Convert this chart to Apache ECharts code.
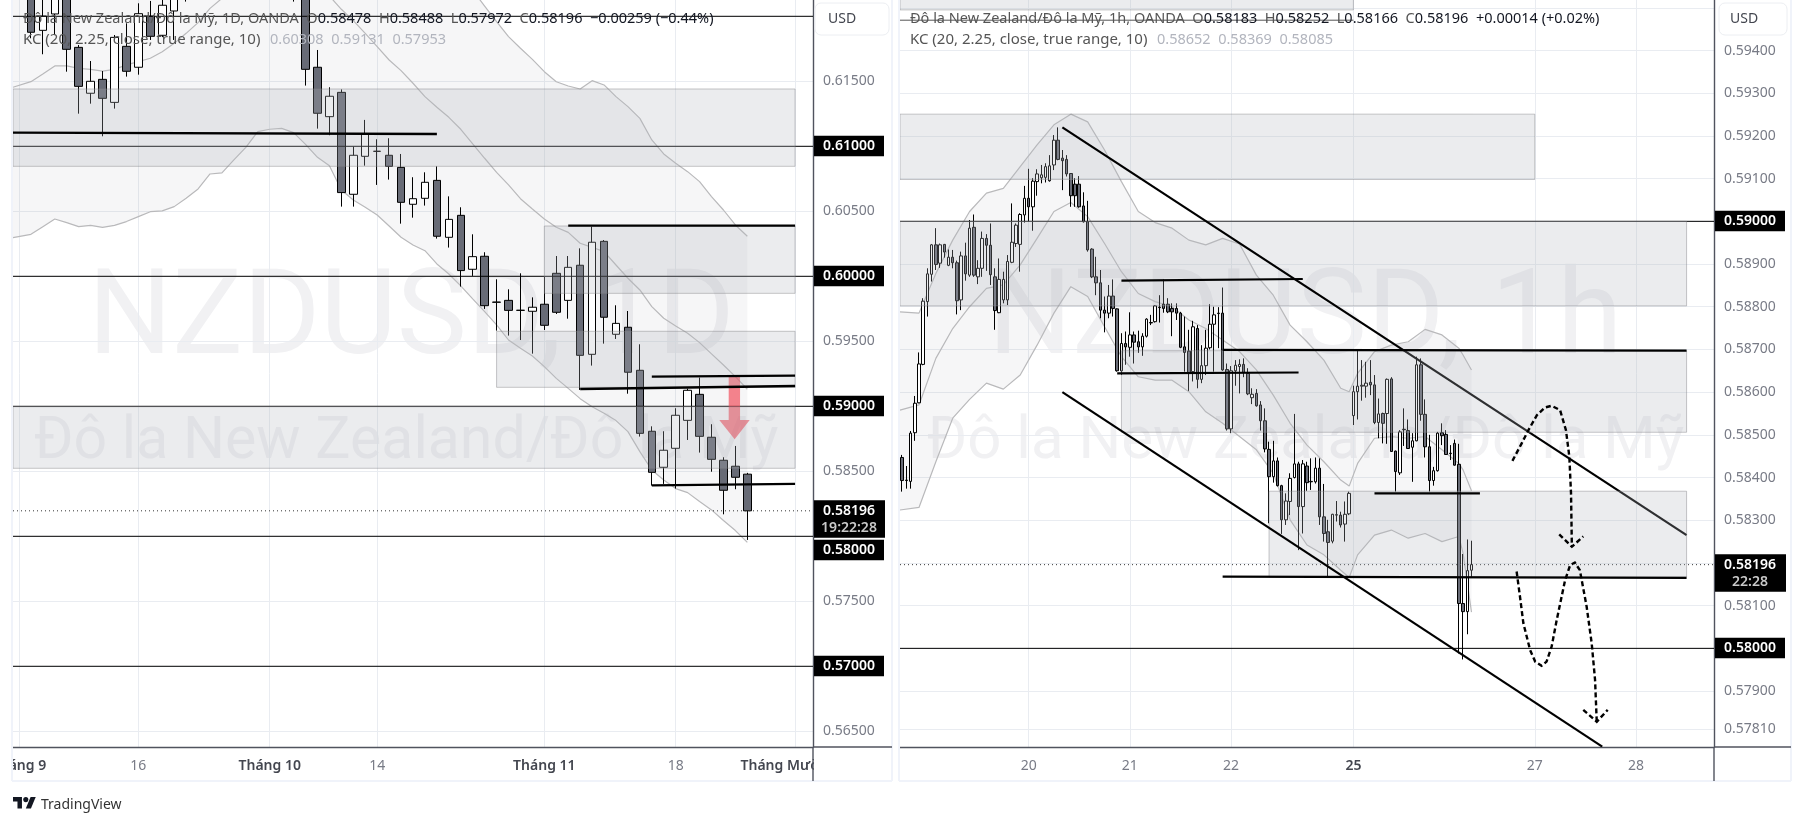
<!DOCTYPE html>
<html><head><meta charset="utf-8">
<style>html,body{margin:0;padding:0;background:#fff}#c{width:1804px;height:826px}</style>
<script src="https://cdn.jsdelivr.net/npm/echarts@6/dist/echarts.min.js"></script>
</head><body><div id="c"></div>
<script>
// ---------- daily pane: rows are [open, close, low, high]
const dailyCandles=[
[.6236,.6252,.6226,.6262],[.6223,.61877,.61831,.6230],[.61892,.62002,.61708,.62177],[.62018,.62203,.61856,.6225],
[.6230,.61746,.61574,.6235],[.61761,.61461,.61251,.61779],[.61408,.61500,.61328,.61656],[.61515,.61369,.61077,.61579],
[.61338,.61838,.61290,.61856],[.61769,.61577,.61536,.61946],[.61608,.62020,.61551,.62100],[.62002,.61846,.61818,.62118],
[.61854,.62085,.6184,.6222],[.62041,.6218,.61818,.6228],[.6222,.6240,.62113,.6250],[.6240,.6252,.6232,.6260],
[.6252,.6246,.6238,.6262],[.6246,.6262,.6240,.6268],[.6262,.6255,.6248,.6270],[.6255,.6268,.6250,.6275],
[.6268,.6258,.6252,.6274],[.6258,.6250,.6244,.6264],[.6250,.6242,.6232,.6256],[.6242,.6232,.62113,.6248],
[.6235,.61592,.61467,.6240],[.61608,.61254,.61136,.61741],[.61228,.61385,.61085,.61454],[.61415,.60644,.60536,.61438],
[.60631,.60931,.60536,.60997],[.60923,.61095,.60851,.61203],[.60962,.60961,.60703,.61054],[.60931,.60846,.60744,.61062],
[.60838,.60569,.60405,.60941],[.60554,.60597,.60451,.60762],[.60600,.60723,.60544,.60800],[.60738,.60308,.60290,.60846],
[.60300,.60438,.60221,.60615],[.60469,.60044,.59921,.60531],[.60054,.60151,.60003,.60323],[.60154,.59774,.59749,.60185],
[.59800,.59802,.59582,.59977],[.59815,.59738,.59544,.59900],[.59738,.59739,.59510,.60023],[.59731,.59762,.59405,.59838],
[.59785,.59623,.59587,.59997],[.60023,.59723,.59710,.60156],[.59815,.60069,.59674,.60156],[.60085,.59392,.59126,.60215],
[.59400,.60262,.59313,.60382],[.60269,.59685,.59482,.60279],[.59554,.59638,.59518,.59777],[.59608,.59262,.59097,.59733],
[.59277,.58792,.58767,.59477],[.58808,.58492,.58390,.58846],[.58531,.58662,.58403,.58808],[.58677,.58931,.58367,.58985],
[.58892,.59123,.58741,.59136],[.59092,.58769,.58644,.59221],[.58762,.58592,.58497,.58862],[.58585,.58354,.58169,.58608],
[.58539,.58454,.58362,.58695],[.58478,.58196,.57972,.58488]];
const dailyKcUpper=[.6261,.6267,.6273,.6280,.6282,.6282,.6279,.6278,.6279,.6283,.6284,.6286,.6295,.6305,.6314,.6323,.6334,.6348,.6351,.6357,.6355,.6358,.6357,.6350,.6347,.6349,.6346,.6344,.6335,.6321,.6306,.6294,.6286,.6273,.6257,.6250,.6243,.6235,.6220,
.62079,.61959,.61844,.61754,.61669,.61574,.61497,.61464,.61441,.61505,.61472,.61382,.61305,.61215,.61049,.60941,.60869,.60805,.60728,.60613,.60510,.60395,.60308];
const dailyKcMiddle=[.61454,.61497,.61556,.61618,.61618,.61600,.61592,.61579,.61592,.61626,.61651,.61677,.61728,.61792,.61869,.61951,.62061,.62138,.62202,.62279,.6233,.62356,.62356,.62305,.62241,.62202,.62156,.62054,.61967,.61869,.61767,.61664,.61582,.61485,.61382,.61300,.61223,
.61131,.61018,.60908,.60800,.60703,.60597,.60518,.60441,.60377,.60338,.60254,.60223,.60190,.60087,.59985,.59895,.59767,.59677,.59618,.59562,.59490,.59403,.59318,.59228,.59131];
const dailyKcLower=[.60297,.60323,.60382,.60441,.60413,.60382,.60392,.60377,.60392,.60421,.60459,.60497,.60503,.60536,.60600,.60672,.60787,.60795,.60895,.60992,.61113,.61131,.61138,.61105,.61015,.60915,.60851,.60664,.60587,.60531,.60472,.60387,.60300,.60241,.60197,.60095,.60018,
.59926,.59826,.59728,.59626,.59510,.59446,.59387,.59305,.59215,.59138,.59059,.58997,.58946,.58890,.58805,.58651,.58510,.58433,.58367,.58336,.58267,.58203,.58121,.58044,.57953];
const dailyTimeLabels={0:'Tháng 9',10:'16',21:'Tháng 10',30:'14',44:'Tháng 11',55:'18',65:'Tháng Mười Hai'};
const dailyLevels=[.62,.61,.60,.59,.58,.57];
const dailyPriceLabels=[.615,.605,.595,.585,.575,.565];
const dailyGridPrices=[.62,.615,.61,.605,.60,.595,.59,.585,.58,.575,.57,.565];
// zones: [from bar, to bar, top price, bottom price]
const dailyZones=[[-0.5,65,.61441,.60846],[44,65,.60387,.59869],[40,65,.59577,.59146],[-0.5,65,.58997,.58523]];
// drawn lines: [from bar, price, to bar, price]
const dailyLines=[[-0.5,.61105,35,.61095],[46,.6039,65,.6039],[53,.59228,65,.59236],[47,.59133,65,.59156],[53,.58392,65,.58403]];
const dailyArrow=[[59.44,.59228],[60.39,.59228],[60.39,.58895],[61.2,.58895],[59.94,.58746],[58.65,.58895],[59.44,.58895]];

// ---------- hourly pane: rows are [open, close, low, high]
const hourlyCandles=[
[.58447,.58393,.58367,.58453],[.58394,.58393,.58374,.58427],[.58391,.58504,.58374,.58509],[.58505,.58574,.58486,.58591],
[.58575,.58666,.58574,.58693],[.58665,.58813,.58663,.58820],[.58812,.58877,.58777,.58890],[.58876,.58945,.58859,.58947],
[.58945,.58899,.58886,.58984],[.58902,.58945,.58891,.58948],[.58946,.58928,.58915,.58947],[.58897,.58916,.58895,.58934],
[.58916,.58903,.58890,.58933],[.58903,.58814,.58782,.58908],[.58816,.58919,.58792,.58929],[.58919,.58877,.58861,.58950],
[.58874,.58984,.58870,.59003],[.58986,.58874,.58870,.59016],[.58870,.58890,.58853,.58909],[.58890,.58960,.58870,.58976],
[.58960,.58944,.58884,.58970],[.58944,.58875,.58851,.58995],[.58870,.58791,.58746,.58890],[.58786,.58864,.58785,.58913],
[.58816,.58864,.58808,.58882],[.58816,.58906,.58804,.58921],[.58904,.58951,.58902,.59042],[.58948,.58991,.58940,.58995],
[.58946,.59016,.58882,.59019],[.59015,.59054,.58997,.59083],[.59054,.59034,.58999,.59123],[.59034,.59094,.58978,.59101],
[.59093,.59111,.59060,.59122],[.59102,.59109,.59089,.59132],[.59103,.59128,.59091,.59136],[.59095,.59130,.59093,.59155],
[.59132,.59190,.59120,.59202],[.59190,.59145,.59143,.59220],[.59148,.59142,.59073,.59167],[.59145,.59111,.59105,.59155],
[.59112,.59060,.59034,.59112],[.59087,.59060,.59034,.59101],[.59087,.59034,.59032,.59106],[.59036,.58999,.58997,.59068],
[.58999,.58933,.58929,.59048],[.58935,.58870,.58867,.58937],[.58870,.58856,.58827,.58917],[.58856,.58792,.58773,.58886],
[.58792,.58785,.58740,.58824],[.58785,.58825,.58773,.58851],[.58825,.58796,.58777,.58864],[.58795,.58650,.58648,.58796],
[.58650,.58714,.58640,.58738],[.58714,.58706,.58664,.58742],[.58705,.58734,.58683,.58787],[.58734,.58717,.58667,.58742],
[.58718,.58706,.58692,.58744],[.58706,.58731,.58685,.58738],[.58731,.58771,.58728,.58773],[.58763,.58762,.58757,.58781],
[.58765,.58802,.58763,.58804],[.58799,.58798,.58763,.58827],[.58806,.58796,.58786,.58864],[.58806,.58788,.58785,.58820],
[.58796,.58788,.58731,.58808],[.58796,.58785,.58769,.58808],[.58785,.58705,.58703,.58788],[.58706,.58693,.58648,.58777],
[.58696,.58644,.58603,.58746],[.58648,.58753,.58625,.58767],[.58749,.58630,.58609,.58757],[.58630,.58662,.58621,.58710],
[.58662,.58703,.58640,.58746],[.58704,.58759,.58700,.58806],[.58759,.58781,.58648,.58800],[.58785,.58784,.58703,.58799],
[.58785,.58652,.58650,.58845],[.58653,.58514,.58510,.58667],[.58514,.58650,.58504,.58661],[.58650,.58663,.58615,.58675],
[.58660,.58665,.58597,.58677],[.58665,.58646,.58635,.58679],[.58644,.58596,.58593,.58656],[.58587,.58595,.58572,.58609],
[.58597,.58568,.58566,.58607],[.58570,.58533,.58510,.58579],[.58533,.58467,.58459,.58562],[.58466,.58402,.58293,.58484],
[.58402,.58439,.58388,.58486],[.58439,.58381,.58379,.58447],[.58381,.58301,.58268,.58383],[.58301,.58345,.58289,.58363],
[.58344,.58398,.58312,.58410],[.58400,.58432,.58398,.58549],[.58432,.58332,.58230,.58437],[.58332,.58432,.58269,.58441],
[.58427,.58388,.58369,.58437],[.58391,.58390,.58371,.58445],[.58390,.58422,.58386,.58447],[.58422,.58308,.58289,.58445],
[.58308,.58269,.58250,.58385],[.58273,.58248,.58168,.58301],[.58251,.58314,.58246,.58315],[.58312,.58313,.58297,.58345],
[.58312,.58289,.58283,.58320],[.58291,.58314,.58250,.58344],[.58315,.58363,.58312,.58367],[.58545,.58601,.58523,.58615],
[.58601,.58614,.58536,.58697],[.58614,.58616,.58580,.58675],[.58614,.58621,.58587,.58671],[.58623,.58617,.58593,.58675],
[.58617,.58529,.58525,.58640],[.58529,.58549,.58492,.58585],[.58550,.58527,.58480,.58552],[.58550,.58630,.58479,.58632],
[.58631,.58461,.58461,.58635],[.58462,.58414,.58367,.58463],[.58411,.58507,.58406,.58511],[.58513,.58512,.58474,.58562],
[.58510,.58468,.58468,.58536],[.58471,.58486,.58390,.58504],[.58486,.58664,.58485,.58683],[.58664,.58548,.58533,.58679],
[.58548,.58472,.58447,.58583],[.58472,.58393,.58367,.58500],[.58393,.58416,.58381,.58425],[.58416,.58504,.58414,.58507],
[.58505,.58498,.58476,.58527],[.58501,.58454,.58453,.58511],[.58457,.58456,.58441,.58476],[.58480,.58429,.58428,.58489],
[.58431,.58105,.57988,.58479],[.58105,.58086,.57974,.58221],[.58086,.58182,.58033,.58255],[.58183,.58196,.58166,.58252]];
const hourlyKcBars=[-0.5,4,8,12,16,20,24,28,32,36,40,44,48,52,56,60,64,68,72,76,80,84,88,92,96,100,104,106,108,112,116,120,124,128,132,133,135];
const hourlyKcUpper=[.58788,.58785,.58878,.58956,.59023,.59066,.59077,.59128,.59179,.59226,.59251,.59233,.59167,.59093,.59023,.58997,.58984,.58956,.58945,.58960,.58947,.58874,.58827,.58757,.58718,.58675,.58609,.58601,.58644,.58695,.58710,.58718,.58747,.58734,.58703,.58687,.58652];
const hourlyKcMiddle=[.58558,.58570,.58679,.58749,.58800,.58843,.58851,.58898,.58960,.59023,.59044,.59011,.58948,.58882,.58831,.58812,.58800,.58769,.58749,.58722,.58695,.58652,.58593,.58527,.58476,.58437,.58394,.58380,.58433,.58492,.58496,.58492,.58496,.58465,.58433,.58418,.58369];
const hourlyKcLower=[.58324,.58330,.58437,.58539,.58583,.58621,.58607,.58640,.58710,.58785,.58847,.58824,.58753,.58683,.58636,.58628,.58628,.58601,.58554,.58527,.58496,.58465,.58410,.58301,.58242,.58219,.58183,.58166,.58219,.58265,.58277,.58258,.58269,.58250,.58262,.58223,.58085];
const hourlyTimeLabels={30:'20',54:'21',78:'22',107:'25',150:'27',174:'28'};
const hourlyLevels=[.59,.58];
const hourlyPriceLabels=[.594,.593,.592,.591,.589,.588,.587,.586,.585,.584,.583,.581,.579,.5781];
const hourlyGridPrices=[.595,.594,.593,.592,.591,.59,.589,.588,.587,.586,.585,.584,.583,.582,.581,.58,.579,.5781];
const hourlyZonesBelow=[[-0.5,150,.59251,.59098],[-0.5,186,.59,.58802],[-0.5,107,.5953,.59495]];
const hourlyZonesAbove=[[52,186,.58697,.58506],[87,186,.58368,.58167]];
const hourlyChannelTop=[[38,.59220,186,.58265]];
const hourlyLines=[[38,.58600,166,.57770],[52,.58861,95,.58865],[76,.58699,186,.58697],[51,.58644,94,.58646],[112,.58363,137,.58363],[76,.58168,186,.58165]];
const hourlyThinLine=[[-0.5,.59471,107,.59471]];
const pathOne=[[144.7,.58439],[146.9,.58480],[148.5,.58511],[150.5,.58546],[152.4,.58564],[154,.58568],[156,.58558],[157.4,.58511],[158.2,.58449],[158.6,.58363],[158.8,.58238]];
const pathOneHead=[[155.8,.58267],[158.8,.58238],[161.5,.58262]];
const pathTwo=[[145.7,.58180],[146.5,.58121],[147.3,.58059],[148.9,.57996],[150.1,.57969],[151.6,.57959],[152.8,.57969],[154,.58004],[155.2,.58066],[157.2,.58160],[158.4,.58195],[159.5,.58201],[160.7,.58183],[162.3,.58098],[163.5,.58012],[164.3,.57926],[164.7,.57828]];
const pathTwoHead=[[161.5,.57856],[164.7,.57828],[167.3,.57856]];
const lastPrice=.58196;

const FONT='"Noto Sans",sans-serif';
const GREY='#787b86';
const dailyBars=67, hourlyBars=193;
const range=n=>Array.from({length:n},(_,i)=>String(i));
const zip=(xs,ys)=>xs.map((x,i)=>[x,ys[i]]);
const dailyIdx=[-0.5].concat(dailyKcUpper.slice(1).map((_,i)=>i+1));

function polyShape(points,style,shapeType){
  return {type:'custom',renderItem:(p,api)=>({type:shapeType||'polyline',shape:{points:points[p.dataIndex].map(q=>api.coord(q))},style:style}),
    data:points.map(pts=>pts[0]),clip:true,silent:true};
}
function band(upperPts,lowerPts){
  return polyShape([upperPts.concat(lowerPts.slice().reverse())],{fill:'rgba(120,123,134,0.065)'},'polygon');
}
function segs(rows,width,color,dash){
  return {type:'custom',renderItem:(p,api)=>{
      const a=api.coord([api.value(0),api.value(1)]),b=api.coord([api.value(2),api.value(3)]);
      return {type:'line',shape:{x1:a[0],y1:a[1],x2:b[0],y2:b[1]},style:{stroke:color,lineWidth:width,lineDash:dash||null}};
    },data:rows,clip:true,silent:true};
}
function zones(rows){
  return {type:'custom',renderItem:(p,api)=>{
      const a=api.coord([api.value(0),api.value(2)]),b=api.coord([api.value(1),api.value(3)]);
      return {type:'rect',shape:{x:a[0],y:a[1],width:b[0]-a[0],height:b[1]-a[1]},style:{fill:'rgba(178,181,190,0.26)',stroke:'rgba(130,130,135,0.45)',lineWidth:1}};
    },data:rows,clip:true,silent:true};
}
function tags(rows,xMax){ // rows: [price, shiftPx, second line]
  return {type:'custom',renderItem:(p,api)=>{
      const r=rows[p.dataIndex],c=api.coord([xMax,r[0]]);
      const two=!!r[2],top=c[1]-10.5+r[1],h=two?37.5:20.5;
      const kids=[{type:'rect',shape:{x:c[0]+1,y:top,width:two?71:70,height:h},style:{fill:'#000'}},
        {type:'text',x:c[0]+36,y:top+10.5,style:{text:r[0].toFixed(5),fill:'#fff',font:'600 14px '+FONT,align:'center',verticalAlign:'middle'}}];
      if(two)kids.push({type:'text',x:c[0]+36,y:top+28,style:{text:r[2],fill:'#c8c8c8',font:'600 14px '+FONT,align:'center',verticalAlign:'middle'}});
      return {type:'group',children:kids};
    },data:rows.map(r=>[xMax,r[0]]),clip:false,silent:true};
}
function on(s,xi,yi,z){return Object.assign(s,{xAxisIndex:xi,yAxisIndex:yi,z:z});}
function candles(data,xi,yi,w){
  return {type:'candlestick',xAxisIndex:xi,yAxisIndex:yi,z:3,data:data,barWidth:w,clip:true,silent:true,
    itemStyle:{color:'#ffffff',color0:'#686b76',borderColor:'#000',borderColor0:'#000',borderWidth:1}};
}
function kcLine(pts,xi,yi){
  return {type:'line',xAxisIndex:xi,yAxisIndex:yi,z:2,data:pts,showSymbol:false,symbol:'none',silent:true,clip:true,
    lineStyle:{color:'#b9b9bb',width:1.2}};
}
function timeAxis(n,labels,gi){
  const has=i=>labels[i]!==undefined;
  return {type:'category',gridIndex:gi,data:range(n),position:'bottom',boundaryGap:true,z:0,
    axisLine:{show:true,onZero:false,lineStyle:{color:'#50535e',width:1.4}},
    axisTick:{show:false,alignWithLabel:true,interval:(i)=>has(i)},
    splitLine:{show:true,alignWithLabel:true,interval:(i)=>has(i),lineStyle:{color:'#e9ecf1',width:1}},
    axisLabel:{show:true,interval:(i)=>has(i),margin:12,hideOverlap:false,showMinLabel:true,showMaxLabel:true,
      formatter:(v)=>{const t=labels[v]||'';return /Tháng|^25$/.test(t)?'{b|'+t+'}':'{n|'+t+'}';},
      rich:{b:{fontFamily:FONT,fontSize:14,fontWeight:600,color:'#43464f'},n:{fontFamily:FONT,fontSize:14,color:GREY}}}};
}
function hiddenX(n,gi){return {type:'value',gridIndex:gi,show:false,min:-0.5,max:n-0.5,position:'top',splitLine:{show:false}};}
function priceAxis(gi,min,max,labels,grid){
  return {type:'value',gridIndex:gi,position:'right',min:min,max:max,scale:true,z:0,
    axisLine:{show:true,onZero:false,lineStyle:{color:'#50535e',width:1.4}},
    axisTick:{show:false,customValues:grid},
    splitLine:{show:true,lineStyle:{color:'#e9ecf1',width:1}},
    axisLabel:{show:true,customValues:labels,margin:10,padding:[3,0,0,0],fontFamily:FONT,fontSize:14,color:GREY,formatter:v=>v.toFixed(5),hideOverlap:false,showMinLabel:true,showMaxLabel:true}};
}
function legend(x,y,parts,size){
  const s=size||14.5;
  const rich={t:{fontFamily:FONT,fontSize:s,fill:'#555'},v:{fontFamily:FONT,fontSize:s,fill:'#131722'},k:{fontFamily:FONT,fontSize:s,fill:'#b2b5be'}};
  return {type:'text',x:x,y:y,z:50,style:{text:parts.map(p=>'{'+p[0]+'|'+p[1]+'}').join(''),rich:rich,fontFamily:FONT,fontSize:s,verticalAlign:'middle'}};
}
const ohlc=(o,h,l,c,d)=>[['t','  O'],['v',o],['t','  H'],['v',h],['t','  L'],['v',l],['t','  C'],['v',c],['v','  '+d]];
function water(x,y,txt,size){return {type:'text',x:x,y:y,z:0,silent:true,style:{text:txt,fontFamily:'Roboto,'+FONT,fontSize:size,fill:'#f1f1f3',verticalAlign:'middle'}};}
function lineG(x1,y1,x2,y2,c,w){return {type:'line',z:40,shape:{x1,y1,x2,y2},style:{stroke:c,lineWidth:w||1}};}
function rectG(x,y,w,h,fill,z){return {type:'rect',z:z,shape:{x,y,width:w,height:h},style:{fill:fill}};}
const usd=(x,w,tx)=>[{type:'rect',z:41,shape:{x:x,y:3,width:w,height:32,r:6},style:{fill:'#fff',stroke:'#eceef2',lineWidth:1}},
  {type:'text',z:42,x:tx,y:19,style:{text:'USD',fontFamily:FONT,fontSize:14,fill:'#43464f',verticalAlign:'middle'}}];
const logoG=(o)=>Object.assign({z:42,x:13,y:794.5,scaleX:0.64,scaleY:0.64,style:{fill:'#131722'}},o);

const chart=echarts.init(document.getElementById('c'),null,{renderer:'canvas'});
chart.setOption({
  animation:false,backgroundColor:'#fff',
  grid:[{left:13,top:0,width:800,height:747,outerBoundsMode:'none',containLabel:false},{left:900,top:0,width:814,height:747,outerBoundsMode:'none',containLabel:false}],
  xAxis:[timeAxis(dailyBars,dailyTimeLabels,0),hiddenX(dailyBars,0),timeAxis(hourlyBars,hourlyTimeLabels,1),hiddenX(hourlyBars,1)],
  yAxis:[priceAxis(0,.563792,.621254,dailyPriceLabels,dailyGridPrices),priceAxis(1,.57769,.595183,hourlyPriceLabels,hourlyGridPrices)],
  series:[
    on(band(zip(dailyIdx,dailyKcUpper),zip(dailyIdx,dailyKcLower)),1,0,1),
    kcLine(zip(dailyIdx,dailyKcMiddle),1,0),kcLine(zip(dailyIdx,dailyKcUpper),1,0),kcLine(zip(dailyIdx,dailyKcLower),1,0),
    candles(dailyCandles,0,0,8),
    on(segs(dailyLevels.map(v=>[-0.5,v,66.5,v]),1,'#000'),1,0,4),
    on(segs([[-0.5,lastPrice,66.5,lastPrice]],1,'#333',[1,3]),1,0,4),
    on(polyShape([dailyArrow],{fill:'rgba(242,54,69,0.6)'},'polygon'),1,0,4),
    on(zones(dailyZones),1,0,5),
    on(segs(dailyLines,2.4,'#000'),1,0,8),
    on(tags([[.61,0],[.60,0],[.59,0],[.58,14],[.57,0],[lastPrice,0,'19:22:28']],66.5),1,0,30),

    on(band(zip(hourlyKcBars,hourlyKcUpper),zip(hourlyKcBars,hourlyKcLower)),3,1,1),
    kcLine(zip(hourlyKcBars,hourlyKcMiddle),3,1),kcLine(zip(hourlyKcBars,hourlyKcUpper),3,1),kcLine(zip(hourlyKcBars,hourlyKcLower),3,1),
    candles(hourlyCandles,2,1,3),
    on(segs(hourlyLevels.map(v=>[-0.5,v,192.5,v]),1,'#000'),3,1,4),
    on(segs(hourlyThinLine,1,'#555'),3,1,4),
    on(segs([[-0.5,lastPrice,192.5,lastPrice]],1,'#333',[1,3]),3,1,4),
    on(zones(hourlyZonesBelow),3,1,5),
    on(segs(hourlyChannelTop,2.2,'#000'),3,1,6),
    on(zones(hourlyZonesAbove),3,1,7),
    on(segs(hourlyLines,2.2,'#000'),3,1,8),
    on(polyShape([pathOne,pathOneHead,pathTwo,pathTwoHead],{stroke:'#000',lineWidth:2.4,lineDash:[5,3],fill:'none'}),3,1,9),
    on(tags([[.59,0],[.58,0],[lastPrice,0,'22:28']],192.5),3,1,30)
  ],
  graphic:[
    water(88,323,'NZDUSD, 1D',118), water(34,443,'Đô la New Zealand/Đô la Mỹ',59),
    water(988,323,'NZDUSD, 1h',118), water(927,443,'Đô la New Zealand/Đô la Mỹ',60),
    // label clipping and panel frames
    rectG(0,748,12.5,33,'#fff',20), rectG(814,748,77,33,'#fff',20),
    lineG(12,0,12,781,'#f0f3fa',2), lineG(12,781,892,781,'#f0f3fa',2), lineG(892,0,892,781,'#f0f3fa',2),
    lineG(899,0,899,781,'#f0f3fa',2), lineG(899,781,1791,781,'#f0f3fa',2), lineG(1791,0,1791,781,'#f0f3fa',2),
    lineG(813,747,813,781,'#50535e',1.4), lineG(813,747,892,747,'#50535e',1.4),
    lineG(1714,747,1714,781,'#50535e',1.4), lineG(1714,747,1791,747,'#50535e',1.4),
    ...usd(815,74,828), ...usd(1719,68,1730),
    legend(23,19,[['t','Đô la New Zealand/Đô la Mỹ, 1D, OANDA']].concat(ohlc('0.58478','0.58488','0.57972','0.58196','−0.00259 (−0.44%)'))),
    legend(23,40,[['t','KC (20, 2.25, close, true range, 10)']],15),
    legend(270,40,[['k','0.60308  0.59131  0.57953']]),
    legend(910,19,[['t','Đô la New Zealand/Đô la Mỹ, 1h, OANDA']].concat(ohlc('0.58183','0.58252','0.58166','0.58196','+0.00014 (+0.02%)'))),
    legend(910,40,[['t','KC (20, 2.25, close, true range, 10)']],15),
    legend(1157,40,[['k','0.58652  0.58369  0.58085']]),
    logoG({type:'polygon',shape:{points:[[14,22],[7,22],[7,11],[0,11],[0,4],[14,4]]}}),
    logoG({type:'polygon',shape:{points:[[28,22],[20,22],[27.5,4],[35.5,4]]}}),
    logoG({type:'circle',shape:{cx:20,cy:8,r:4}}),
    {type:'text',z:42,x:41,y:805,style:{text:'TradingView',fontFamily:FONT,fontSize:14,fill:'#333',verticalAlign:'middle'}}
  ]
});
</script></body></html>
